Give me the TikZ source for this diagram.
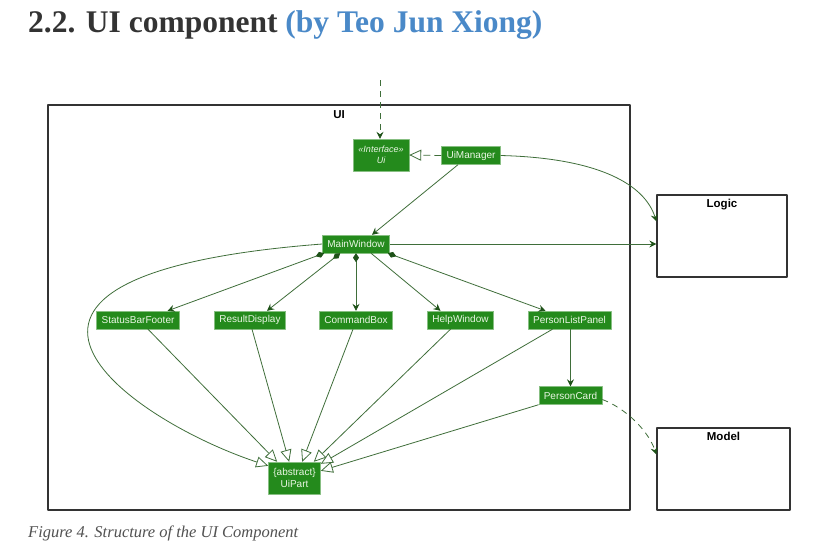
\documentclass[tikz,border=0pt]{standalone}
\usepackage{fontspec}
\setmainfont{Liberation Serif}
\setsansfont{Liberation Sans}
\usetikzlibrary{arrows.meta,calc}
\definecolor{uiink}{HTML}{333333}
\definecolor{uiblue}{HTML}{4A89C8}
\definecolor{uigreen}{HTML}{248A1C}
\definecolor{uiedge}{HTML}{3F6E3A}
\definecolor{uihead}{HTML}{1E5218}
\definecolor{uitext}{HTML}{EAF6E4}

\begin{document}
\begin{tikzpicture}[x=1pt,y=-1pt,line join=round,
  font=\sffamily\fontsize{10}{11.5}\selectfont,
  cls/.style={draw=uigreen!55!white,fill=uigreen,text=uitext,inner xsep=5pt,inner ysep=2pt,
    minimum height=18,align=center},
  pkg/.style={draw=uiink,line width=1.3pt,fill=white,inner sep=0pt},
  pkglab/.style={anchor=north,inner sep=0pt,font=\sffamily\bfseries\fontsize{11.5}{13}\selectfont,text=black},
  arr/.style={uiedge,line width=0.8pt,-{Stealth[length=7pt,width=7pt,inset=2.5pt,color=uihead]}},
  dep/.style={arr,dash pattern=on 6pt off 5pt},
  comp/.style={uiedge,line width=0.8pt,{Diamond[length=9pt,width=6pt,color=uihead]}-{Stealth[length=7pt,width=7pt,inset=2.5pt,color=uihead]}},
  inh/.style={uiedge,line width=0.8pt,-{Triangle[open,length=12pt,width=11pt,fill=white]}},
  real/.style={inh,dash pattern=on 7pt off 4pt}]
\path[use as bounding box] (0,0) rectangle (824,542);
\fill[white] (0,0) rectangle (824,542);
\node[anchor=base west,inner sep=0pt,font=\rmfamily\bfseries\fontsize{31.5}{35}\selectfont,text=uiink] (title) at (28,32)
  {2.2. UI component \textcolor{uiblue}{(by Teo Jun Xiong)}};
\node[anchor=base west,inner sep=0pt,font=\rmfamily\itshape\fontsize{16.5}{18}\selectfont,text=uiink!85] (cap) at (28,537)
  {Figure 4. Structure of the UI Component};
% packages
\node[pkg,minimum width=582,minimum height=405] (uipkg) at (339,307.5) {};
\node[pkglab] (uilab) at ($(uipkg.north)+(0,6)$) {UI};
\node[pkg,minimum width=130,minimum height=82] (logic) at (722,236) {};
\node[pkglab] (logiclab) at ($(logic.north)+(0,5)$) {Logic};
\node[pkg,minimum width=133,minimum height=82] (model) at (723.5,469) {};
\node[pkglab] (modellab) at ($(model.north)+(0,5)$) {Model};
% classes
\node[cls,minimum width=56,minimum height=32,font=\sffamily\itshape\fontsize{9}{10.5}\selectfont,inner xsep=1pt] (ui) at (381,155) {«Interface»\\Ui};
\node[cls] (uimgr) at (471,155.5) {UiManager};
\node[cls] (mainwin) at (356,244) {MainWindow};
\node[cls] (sbf) at (138,320) {StatusBarFooter};
\node[cls] (rd) at (250,320) {ResultDisplay};
\node[cls] (cb) at (356,320) {CommandBox};
\node[cls] (hw) at (460.5,320) {HelpWindow};
\node[cls] (plp) at (569.5,320) {PersonListPanel};
\node[cls] (pc) at (570.5,395.5) {PersonCard};
\node[cls,minimum width=51,minimum height=32] (uipart) at (294.5,478) {\{abstract\}\\UiPart};
\coordinate (intop) at (380,80);
\draw[dep] (intop) -- (ui.north -| intop);
\draw[real] (uimgr.west) -- (ui.east);
\draw[arr] (uimgr.east) .. controls (600,158) and (645,185) .. ($(logic.north west)+(0,27)$);
\draw[arr] ($(uimgr.south)+(-13,0)$) -- ($(mainwin.north)+(16,0)$);
\draw[arr] (mainwin.east) -- (mainwin.east -| logic.west);
\draw[comp] ($(mainwin.south west)+(2,0)$) -- ($(sbf.north east)+(-12,0)$);
\draw[comp] ($(mainwin.south west)+(18,0)$) -- ($(rd.north)+(17,0)$);
\draw[comp] (mainwin.south) -- (cb.north);
\draw[arr] ($(mainwin.south)+(15,0)$) -- ($(hw.north)+(-20,0)$);
\draw[comp] ($(mainwin.south east)+(-2,0)$) -- ($(plp.north)+(-24,0)$);
\draw[arr] (pc.north |- plp.south) -- (pc.north);
\draw[dep] ($(pc.east)+(0,4)$) .. controls (625,408) and (648,430) .. ($(model.north west)+(0,27)$);
% UiPart
\draw[inh] (mainwin.west) .. controls (-80,275) and (130,420) .. ($(uipart.north west)+(0,4)$);
\draw[inh] ($(sbf.south)+(10,0)$) -- ($(uipart.north west)+(9,0)$);
\draw[inh] ($(rd.south)+(2,0)$) -- ($(uipart.north west)+(21,0)$);
\draw[inh] ($(cb.south)+(-3,0)$) -- ($(uipart.north west)+(34,0)$);
\draw[inh] ($(hw.south)+(-10,0)$) -- ($(uipart.north east)+(-7,0)$);
\draw[inh] ($(plp.south)+(-17,0)$) -- ($(uipart.north east)+(0,2)$);
\draw[inh] (pc.south west) -- ($(uipart.north east)+(0,9)$);
\end{tikzpicture}
\end{document}
